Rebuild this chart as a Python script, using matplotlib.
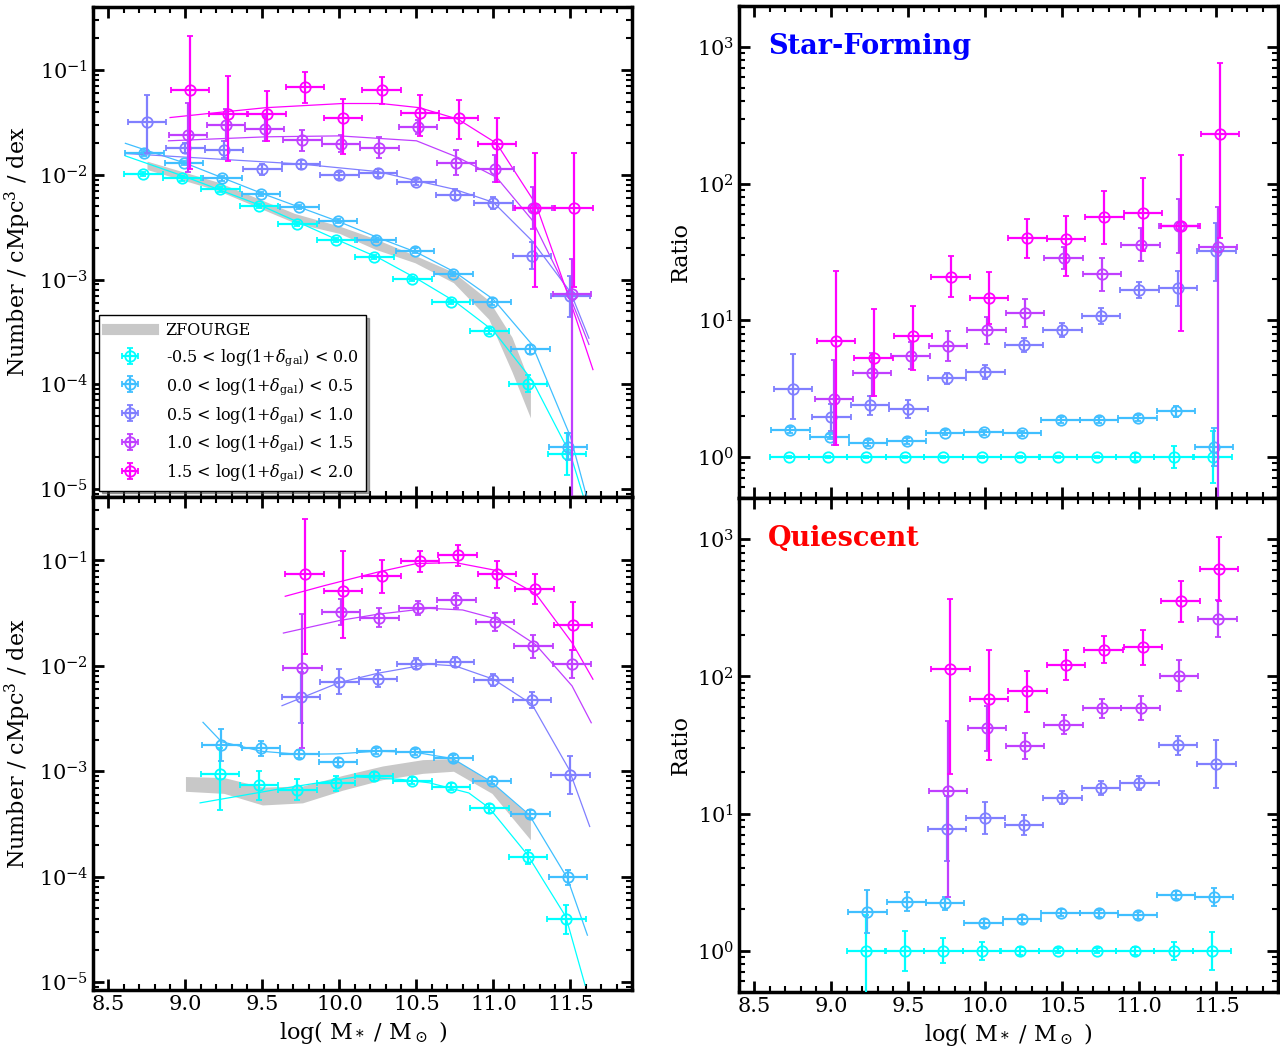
import matplotlib
matplotlib.use("Agg")
import matplotlib.pyplot as plt
from matplotlib.lines import Line2D
from matplotlib.ticker import MultipleLocator, FormatStrFormatter
import numpy as np

plt.rcParams['font.family'] = ['DejaVu Serif']
plt.rcParams['mathtext.fontset'] = 'dejavuserif'

# ----------------------------
# Data (log10 values)
# ----------------------------
labels = [r'-0.5 < log(1+$\delta_{\rm gal}$) < 0.0',
          r'0.0 < log(1+$\delta_{\rm gal}$) < 0.5',
          r'0.5 < log(1+$\delta_{\rm gal}$) < 1.0',
          r'1.0 < log(1+$\delta_{\rm gal}$) < 1.5',
          r'1.5 < log(1+$\delta_{\rm gal}$) < 2.0']

BIN_HALF = 0.125
INF = 9.0   # lower error running off the bottom of the axis

# star-forming SMF
sf_mass = [
    [8.727, 8.977, 9.227, 9.477, 9.727, 9.977, 10.227, 10.473, 10.723, 10.973, 11.223, 11.477],
    [8.734, 8.989, 9.239, 9.489, 9.739, 9.989, 10.239, 10.489, 10.739, 10.989, 11.239, 11.484],
    [8.75, 9.0, 9.25, 9.5, 9.75, 10.0, 10.25, 10.5, 10.75, 11.0, 11.25, 11.5],
    [9.018, 9.264, 9.514, 9.759, 10.009, 10.259, 10.509, 10.759, 11.009, 11.255, 11.51],
    [9.03, 9.275, 9.53, 9.775, 10.023, 10.273, 10.523, 10.773, 11.023, 11.268, 11.523],
]
sf_logn = [
    [-1.990, -2.035, -2.140, -2.302, -2.473, -2.619, -2.787, -2.994, -3.216, -3.489, -3.994, -4.667],
    [-1.797, -1.889, -2.035, -2.184, -2.305, -2.444, -2.622, -2.724, -2.946, -3.21, -3.667, -4.597],
    [-1.492, -1.746, -1.762, -1.949, -1.902, -2.006, -1.981, -2.067, -2.19, -2.27, -2.771, -3.162],
    [-1.619, -1.524, -1.562, -1.67, -1.702, -1.74, -1.543, -1.886, -1.943, -2.314, -3.137],
    [-1.19, -1.422, -1.416, -1.162, -1.463, -1.194, -1.406, -1.463, -1.708, -2.314, -2.314],
]
sf_up = [
    [0.02, 0.02, 0.02, 0.02, 0.02, 0.02, 0.02, 0.02, 0.02, 0.03, 0.08, 0.2],
    [0.02, 0.02, 0.02, 0.02, 0.02, 0.02, 0.02, 0.02, 0.02, 0.03, 0.04, 0.13],
    [0.254, 0.05, 0.08, 0.05, 0.04, 0.03, 0.04, 0.03, 0.05, 0.06, 0.13, 0.2],
    [0.3, 0.15, 0.12, 0.1, 0.08, 0.1, 0.07, 0.12, 0.13, 0.2, 0.33],
    [0.514, 0.365, 0.216, 0.146, 0.184, 0.13, 0.168, 0.178, 0.254, 0.517, 0.517],
]
sf_dn = [
    [0.02, 0.02, 0.02, 0.02, 0.02, 0.02, 0.02, 0.02, 0.02, 0.03, 0.08, 0.2],
    [0.02, 0.02, 0.02, 0.02, 0.02, 0.02, 0.02, 0.02, 0.02, 0.03, 0.04, 0.13],
    [0.305, 0.05, 0.08, 0.05, 0.04, 0.03, 0.04, 0.03, 0.05, 0.06, 0.13, 0.2],
    [0.35, 0.15, 0.12, 0.1, 0.08, 0.1, 0.07, 0.12, 0.13, 0.2, INF],
    [0.756, 0.444, 0.26, 0.149, 0.34, 0.13, 0.222, 0.196, 0.365, 0.76, 0.76],
]

# star-forming fits (x, log n)
sf_fit_x = [
    [8.61, 9.0, 9.5, 10.0, 10.25, 10.5, 10.75, 11.0, 11.25, 11.5, 11.59],
    [8.61, 9.0, 9.5, 10.0, 10.25, 10.5, 10.75, 11.0, 11.25, 11.5, 11.61],
    [8.61, 9.0, 9.75, 10.25, 10.5, 10.75, 11.0, 11.25, 11.5, 11.62],
    [8.89, 9.52, 10.0, 10.5, 10.77, 11.02, 11.25, 11.49, 11.62],
    [8.90, 9.25, 9.52, 10.02, 10.27, 10.52, 10.77, 11.02, 11.275, 11.49, 11.646],
]
sf_fit_logn = [
    [-1.82, -2.02, -2.30, -2.63, -2.79, -2.99, -3.21, -3.49, -3.96, -4.67, -5.10],
    [-1.70, -1.89, -2.18, -2.45, -2.60, -2.74, -2.93, -3.19, -3.62, -4.50, -5.10],
    [-1.797, -1.832, -1.898, -1.97, -2.057, -2.14, -2.264, -2.63, -3.12, -3.56],
    [-1.676, -1.638, -1.629, -1.676, -1.835, -2.025, -2.43, -3.14, -3.62],
    [-1.454, -1.40, -1.36, -1.32, -1.32, -1.36, -1.47, -1.70, -2.28, -3.17, -3.86],
]
sf_zf_x = [8.75, 9.21, 9.71, 10.0, 10.23, 10.49, 10.74, 10.97, 11.12, 11.24]
sf_zf_hi = [-1.87, -2.07, -2.37, -2.49, -2.61, -2.77, -2.93, -3.20, -3.55, -4.00]
sf_zf_lo = [-1.95, -2.15, -2.46, -2.56, -2.71, -2.84, -3.03, -3.38, -3.88, -4.32]

# quiescent SMF
q_mass = [
    [9.225, 9.477, 9.727, 9.977, 10.223, 10.473, 10.723, 10.973, 11.223, 11.473],
    [9.234, 9.489, 9.739, 9.989, 10.239, 10.489, 10.739, 10.989, 11.239, 11.484],
    [9.75, 10.0, 10.25, 10.5, 10.75, 11.0, 11.25, 11.5],
    [9.759, 10.011, 10.259, 10.509, 10.759, 11.009, 11.259, 11.509],
    [9.773, 10.023, 10.273, 10.523, 10.768, 11.023, 11.268, 11.518],
]
q_logn = [
    [-3.025, -3.133, -3.175, -3.114, -3.048, -3.089, -3.146, -3.352, -3.813, -4.4],
    [-2.752, -2.781, -2.838, -2.911, -2.806, -2.816, -2.879, -3.089, -3.406, -4.006],
    [-2.292, -2.149, -2.121, -1.978, -1.965, -2.133, -2.324, -3.038],
    [-2.019, -1.489, -1.546, -1.451, -1.378, -1.584, -1.813, -1.981],
    [-1.127, -1.286, -1.152, -1.01, -0.949, -1.133, -1.273, -1.613],
]
q_up = [
    [0.25, 0.14, 0.1, 0.07, 0.04, 0.03, 0.03, 0.04, 0.07, 0.13],
    [0.155, 0.07, 0.04, 0.04, 0.03, 0.03, 0.03, 0.03, 0.04, 0.07],
    [0.229, 0.115, 0.08, 0.05, 0.05, 0.06, 0.08, 0.18],
    [0.511, 0.12, 0.09, 0.07, 0.07, 0.085, 0.11, 0.13],
    [0.524, 0.371, 0.152, 0.1, 0.1, 0.13, 0.145, 0.222],
]
q_dn = [
    [0.34, 0.14, 0.1, 0.07, 0.04, 0.03, 0.03, 0.04, 0.07, 0.14],
    [0.155, 0.07, 0.04, 0.04, 0.03, 0.03, 0.03, 0.03, 0.04, 0.07],
    [0.248, 0.115, 0.08, 0.05, 0.05, 0.06, 0.08, 0.18],
    [0.762, 0.12, 0.09, 0.07, 0.07, 0.085, 0.11, 0.13],
    [0.762, 0.451, 0.156, 0.1, 0.1, 0.13, 0.145, 0.238],
]
q_fit_x = [
    [9.095, 9.61, 10.11, 10.41, 10.584, 10.84, 10.973, 11.221, 11.47, 11.595],
    [9.114, 9.234, 9.49, 9.74, 9.99, 10.24, 10.49, 10.735, 10.98, 11.232, 11.48, 11.61],
    [9.627, 10.0, 10.25, 10.58, 10.75, 11.0, 11.25, 11.49, 11.625],
    [9.636, 10.0, 10.25, 10.58, 10.8, 11.02, 11.275, 11.51, 11.635],
    [9.648, 9.9, 10.25, 10.5, 10.75, 11.0, 11.275, 11.51, 11.646],
]
q_fit_logn = [
    [-3.30, -3.168, -3.053, -3.079, -3.11, -3.206, -3.349, -3.793, -4.38, -5.03],
    [-2.536, -2.72, -2.81, -2.84, -2.835, -2.81, -2.82, -2.88, -3.095, -3.413, -4.015, -4.555],
    [-2.378, -2.158, -2.07, -1.984, -2.0, -2.127, -2.365, -2.98, -3.524],
    [-1.689, -1.57, -1.51, -1.454, -1.47, -1.556, -1.80, -2.19, -2.54],
    [-1.34, -1.24, -1.11, -1.03, -1.02, -1.09, -1.317, -1.78, -2.127],
]
q_zf_x = [9.0, 9.25, 9.5, 9.76, 10.02, 10.28, 10.54, 10.74, 10.99, 11.24]
q_zf_hi = [-3.05, -3.06, -3.15, -3.14, -3.04, -2.95, -2.89, -2.88, -3.11, -3.43]
q_zf_lo = [-3.19, -3.21, -3.32, -3.30, -3.18, -3.08, -3.02, -3.00, -3.21, -3.65]

# ratios (log10), same masses as the SMF points
sf_ratio = [
    [0.0] * 12,
    [0.197, 0.149, 0.102, 0.117, 0.178, 0.180, 0.173, 0.270, 0.270, 0.285, 0.334, 0.073],
    [0.497, 0.29, 0.378, 0.353, 0.575, 0.621, 0.819, 0.929, 1.033, 1.223, 1.233, 1.509],
    [0.424, 0.614, 0.741, 0.809, 0.926, 1.053, 1.455, 1.338, 1.553, 1.691, 1.533],
    [0.851, 0.721, 0.882, 1.319, 1.165, 1.599, 1.594, 1.757, 1.786, 1.691, 2.362],
]
sf_ratio_up = [
    [0.01, 0.01, 0.01, 0.01, 0.01, 0.01, 0.01, 0.01, 0.01, 0.03, 0.08, 0.19],
    [0.02, 0.02, 0.02, 0.02, 0.02, 0.02, 0.02, 0.02, 0.02, 0.02, 0.04, 0.14],
    [0.253, 0.1, 0.07, 0.065, 0.04, 0.05, 0.05, 0.05, 0.06, 0.06, 0.125, 0.2],
    [0.288, 0.15, 0.1, 0.11, 0.1, 0.1, 0.08, 0.12, 0.12, 0.2, 0.3],
    [0.512, 0.361, 0.224, 0.15, 0.185, 0.14, 0.168, 0.19, 0.254, 0.519, 0.524],
]
sf_ratio_dn = [
    [0.01, 0.01, 0.01, 0.01, 0.01, 0.01, 0.01, 0.01, 0.01, 0.03, 0.08, 0.19],
    [0.02, 0.02, 0.02, 0.02, 0.02, 0.02, 0.02, 0.02, 0.02, 0.02, 0.04, 0.14],
    [0.217, 0.1, 0.07, 0.065, 0.04, 0.05, 0.05, 0.05, 0.06, 0.06, 0.125, 0.22],
    [0.34, 0.17, 0.1, 0.11, 0.1, 0.1, 0.08, 0.12, 0.12, 0.2, INF],
    [0.767, 0.278, 0.244, 0.15, 0.19, 0.14, 0.273, 0.2, 0.28, 0.768, 0.763],
]
q_ratio = [
    [0.0] * 10,
    [0.285, 0.358, 0.345, 0.2, 0.231, 0.277, 0.273, 0.26, 0.409, 0.394],
    [0.891, 0.966, 0.917, 1.117, 1.185, 1.224, 1.499, 1.365],
    [1.165, 1.623, 1.496, 1.647, 1.769, 1.769, 2.005, 2.421],
    [2.056, 1.835, 1.891, 2.085, 2.195, 2.217, 2.547, 2.786],
]
q_ratio_up = [
    [0.26, 0.145, 0.09, 0.065, 0.03, 0.02, 0.02, 0.03, 0.065, 0.14],
    [0.155, 0.067, 0.05, 0.03, 0.03, 0.025, 0.025, 0.025, 0.03, 0.066],
    [0.24, 0.115, 0.076, 0.05, 0.05, 0.05, 0.07, 0.175],
    [0.513, 0.158, 0.095, 0.07, 0.07, 0.088, 0.113, 0.135],
    [0.511, 0.36, 0.15, 0.11, 0.1, 0.124, 0.148, 0.229],
]
q_ratio_dn = [
    [INF, 0.145, 0.09, 0.065, 0.03, 0.02, 0.02, 0.03, 0.065, 0.14],
    [0.155, 0.067, 0.05, 0.03, 0.03, 0.025, 0.025, 0.025, 0.03, 0.066],
    [0.24, 0.115, 0.076, 0.05, 0.05, 0.05, 0.07, 0.175],
    [0.771, 0.165, 0.095, 0.07, 0.07, 0.088, 0.113, 0.135],
    [0.766, 0.447, 0.15, 0.11, 0.1, 0.131, 0.148, 0.238],
]

colors = [plt.cm.cool(v) for v in (0.0, 0.25, 0.5, 0.75, 1.0)]
ZF_COLOR = '#c8c8c8'

# ----------------------------
# Helpers
# ----------------------------
def style_axes(ax, ylim, bottom_labels):
    ax.set_xlim(8.4, 11.9)
    ax.set_yscale('log')
    ax.set_ylim(*ylim)
    ax.xaxis.set_major_locator(MultipleLocator(0.5))
    ax.xaxis.set_minor_locator(MultipleLocator(0.1))
    ax.xaxis.set_major_formatter(FormatStrFormatter('%.1f'))
    ax.tick_params(which='both', direction='in', top=True, right=True, labelsize=15)
    ax.tick_params(which='major', length=8, width=2)
    ax.tick_params(which='minor', length=4, width=1.5)
    if not bottom_labels:
        ax.tick_params(labelbottom=False)
    for s in ax.spines.values():
        s.set_linewidth(2.5)


def draw_points(ax, xs, ys, ups, dns, with_label=False):
    handles = []
    for i in range(5):
        x = np.array(xs[i])
        ly = np.array(ys[i])
        y = 10 ** ly
        lo = y - 10 ** (ly - np.array(dns[i]))
        hi = 10 ** (ly + np.array(ups[i])) - y
        h = ax.errorbar(x, y, xerr=BIN_HALF, yerr=[lo, hi], fmt='o', ms=7.5,
                        mfc='none', mec=colors[i], mew=1.3, ecolor=colors[i],
                        elinewidth=1.6, capsize=2.5, capthick=1.6,
                        label=labels[i] if with_label else None, zorder=3 + i)
        handles.append(h)
    return handles


def draw_fits(ax, fx, fy):
    for i in range(5):
        ax.plot(fx[i], 10 ** np.array(fy[i]), color=colors[i], lw=0.9, zorder=2)


fig = plt.figure(figsize=(12.8, 10.48), dpi=100)

ax_sf = fig.add_axes([0.0727, 0.5258, 0.4211, 0.4676])
ax_q = fig.add_axes([0.0727, 0.0553, 0.4211, 0.4705])
ax_sfr = fig.add_axes([0.5773, 0.5248, 0.4211, 0.4695])
ax_qr = fig.add_axes([0.5773, 0.0534, 0.4211, 0.4714])

SMF_LIM = (8.4e-6, 0.4)
RAT_LIM = (0.5, 2000)

# ----------------------------
# Star-forming SMF
# ----------------------------
ax_sf.fill_between(sf_zf_x, 10 ** np.array(sf_zf_lo), 10 ** np.array(sf_zf_hi),
                   color=ZF_COLOR, lw=0, zorder=1)
draw_fits(ax_sf, sf_fit_x, sf_fit_logn)
eb = draw_points(ax_sf, sf_mass, sf_logn, sf_up, sf_dn, with_label=True)
style_axes(ax_sf, SMF_LIM, False)
ax_sf.set_ylabel('Number / cMpc$^3$ / dex', fontsize=16)

zf_handle = Line2D([], [], color=ZF_COLOR, lw=8)
leg = ax_sf.legend([zf_handle] + eb, ['ZFOURGE'] + labels, loc='lower left',
                   fontsize=11.5, fancybox=False, shadow=True, framealpha=1,
                   edgecolor='black', handlelength=2.9, borderaxespad=0.4,
                   labelspacing=0.5, handletextpad=0.8, borderpad=0.45)
leg.get_frame().set_linewidth(1.0)

# ----------------------------
# Quiescent SMF
# ----------------------------
ax_q.fill_between(q_zf_x, 10 ** np.array(q_zf_lo), 10 ** np.array(q_zf_hi),
                  color=ZF_COLOR, lw=0, zorder=1)
draw_fits(ax_q, q_fit_x, q_fit_logn)
draw_points(ax_q, q_mass, q_logn, q_up, q_dn)
style_axes(ax_q, SMF_LIM, True)
ax_q.set_ylabel('Number / cMpc$^3$ / dex', fontsize=16)
ax_q.set_xlabel(r'log( M$_*$ / M$_\odot$ )', fontsize=16)

# ----------------------------
# Ratios
# ----------------------------
draw_points(ax_sfr, sf_mass, sf_ratio, sf_ratio_up, sf_ratio_dn)
style_axes(ax_sfr, RAT_LIM, False)
ax_sfr.set_ylabel('Ratio', fontsize=16)
ax_sfr.text(0.054, 0.945, 'Star-Forming', transform=ax_sfr.transAxes, color='blue',
            fontsize=19.5, fontweight='bold', va='top', ha='left')

draw_points(ax_qr, q_mass, q_ratio, q_ratio_up, q_ratio_dn)
style_axes(ax_qr, RAT_LIM, True)
ax_qr.set_ylabel('Ratio', fontsize=16)
ax_qr.set_xlabel(r'log( M$_*$ / M$_\odot$ )', fontsize=16)
ax_qr.text(0.054, 0.945, 'Quiescent', transform=ax_qr.transAxes, color='red',
           fontsize=19.5, fontweight='bold', va='top', ha='left')

plt.savefig('out.png', dpi=100)
